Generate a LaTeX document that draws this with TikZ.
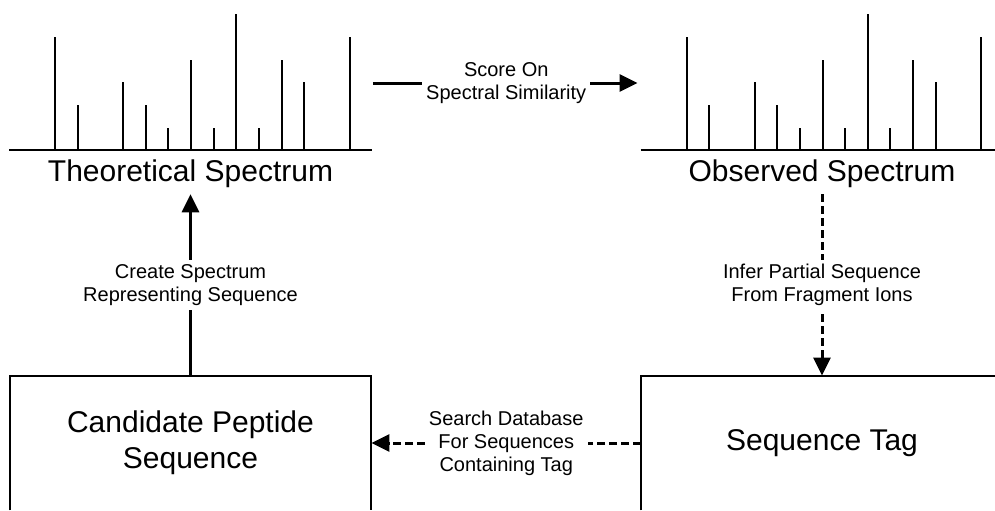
\documentclass[tikz,border=0pt]{standalone}
\usepackage{fontspec}
\setmainfont{Liberation Sans}
\usetikzlibrary{arrows.meta}
\tikzset{
    % Spectrum drawing
    spectrum/.style={minimum width=181pt, minimum height=67pt, inner sep=0pt},
    peak/.style={line width=1pt},
    specname/.style={font=\fontsize{15}{18}\selectfont, anchor=base},
    % Process boxes and their labels
    stepbox/.style={minimum width=180.5pt, minimum height=67pt, inner sep=0pt, align=center, font=\fontsize{15}{18}\selectfont},
    boxline/.style={line width=1pt},
    steplabel/.style={fill=white, inner sep=2pt, align=center, font=\fontsize{10}{11.5}\selectfont},
    % Flow styles
    flow/.style={-{Triangle[length=9pt,width=8.5pt]}, line width=1.5pt},
    infer/.style={-{Triangle[length=9pt,width=8.5pt]}, line width=1.5pt, dash pattern=on 4pt off 2pt}
}

\begin{document}
\begin{tikzpicture}[x=0.5pt, y=-0.5pt]
    % Frame
    \useasboundingbox (0,0) rectangle (995,510);
    \clip (0,0) rectangle (995,510);

    % Spectra
    \node[spectrum] (theospec) at (190.5,83) {};
    \node[spectrum] (obsspec) at (822,83) {};
    \foreach \spec in {theospec,obsspec} {
        \draw[peak] (\spec.south west) -- (\spec.south east);
        \foreach \k/\h in {0/5,1/2,3/3,4/2,5/1,6/4,7/1,8/6,9/1,10/4,11/3,13/5}
            \draw[peak] ([shift={(46+22.65*\k,0)}]\spec.south west) -- ++(0,-22.7*\h);
    }
    \node[specname] (theolbl) at (190.5,181) {Theoretical Spectrum};
    \node[specname] (obslbl) at (822,181) {Observed Spectrum};

    % Boxes (open at the bottom edge)
    \node[stepbox] (cand) at (190.5,443) {Candidate Peptide\\Sequence};
    \node[stepbox] (tag) at (822,443) {Sequence Tag};
    \draw[boxline] (cand.south west) |- (cand.north east) -- (cand.south east);
    \draw[boxline] (tag.south west) |- (tag.north east) -- (tag.south east);

    % Connectors
    \draw[flow, shorten <=0.5pt, shorten >=1.5pt] (theospec.east) -- (obsspec.west)
        node[midway, steplabel] {Score On\\Spectral Similarity};
    \draw[flow] (cand.north) -- (theolbl.south)
        node[midway, steplabel] {Create Spectrum\\Representing Sequence};
    \draw[infer] (obslbl.south) -- (tag.north)
        node[midway, steplabel] {Infer Partial Sequence\\From Fragment Ions};
    \draw[infer] (tag.west) -- (cand.east)
        node[midway, steplabel] {Search Database\\For Sequences\\Containing Tag};
\end{tikzpicture}
\end{document}
